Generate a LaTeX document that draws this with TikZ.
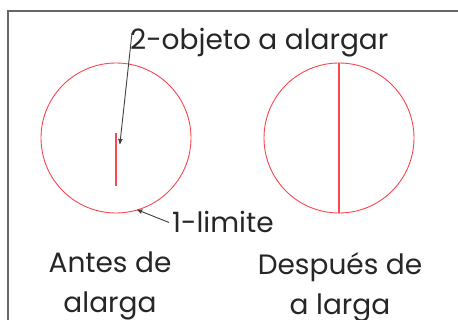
\documentclass[tikz,border=0pt]{standalone}
\usepackage{fontspec}
\setmainfont{Poppins}
\usetikzlibrary{arrows, positioning}
\definecolor{rojo}{RGB}{250,70,80}
\tikzset{
    circulo/.style={circle, draw=rojo, line width=0.9pt, minimum size=150pt, inner sep=0pt},
    linea/.style={draw=rojo, line width=1.1pt},
    etiqueta/.style={font=\fontsize{28}{40}\selectfont, text=black!85, inner sep=0pt},
    flecha/.style={->, >=stealth', draw=black!75, line width=0.9pt, shorten >=-1pt}
}
\begin{document}
\begin{tikzpicture}[x=1pt, y=-1pt]
    \useasboundingbox (0,0) rectangle (458,320);
    \clip (0,0) rectangle (458,320);
    \fill[white] (0,0) rectangle (458,320);
    \draw[black!60, line width=1.2pt] (8,340) |- (480,11);

    \node (antes) [circulo] at (116,138) {};
    \node (despues) [circulo] at (339,138) {};
    \draw[linea] (despues.north) -- (despues.south);

    \coordinate (objeto) at ([yshift=5pt]antes.center);
    \coordinate (objetofin) at ([yshift=-48pt]antes.center);
    \draw[linea] (objeto) -- (objetofin);

    \node (txtobjeto) [etiqueta, anchor=base west] at (130,50) {2-objeto a alargar};
    \node (txtlimite) [etiqueta, anchor=base west] at (172,233) {1-limite};
    \node (txtantes) [etiqueta, align=center, anchor=north] at (110,252) {Antes de\\alarga};
    \node (txtdespues) [etiqueta, align=center, anchor=north] at (340,252) {Después de\\a larga};

    \coordinate (puntaobjeto) at ([xshift=4pt, yshift=-10pt]objeto);
    \draw [flecha] ([xshift=2pt, yshift=17pt]txtobjeto.base west) -- (puntaobjeto);
    \draw [flecha] ([xshift=-3pt]txtlimite.west) -- (antes.-73);
\end{tikzpicture}
\end{document}
